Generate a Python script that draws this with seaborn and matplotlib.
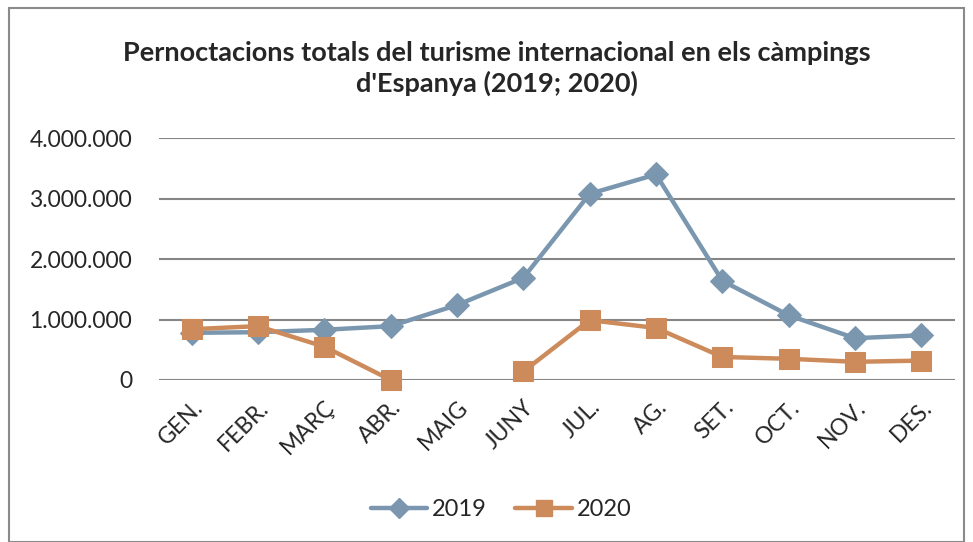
import numpy as np
import pandas as pd
import matplotlib
matplotlib.use("Agg")
import matplotlib.pyplot as plt
from matplotlib.patches import Rectangle
from matplotlib.ticker import FuncFormatter
import seaborn as sns

# Data
months = ['GEN.', 'FEBR.', 'MARÇ', 'ABR.', 'MAIG', 'JUNY',
          'JUL.', 'AG.', 'SET.', 'OCT.', 'NOV.', 'DES.']
vals_2019 = [780000, 790000, 830000, 890000, 1240000, 1690000,
             3080000, 3400000, 1640000, 1070000, 690000, 740000]
vals_2020 = [840000, 890000, 550000, 0, np.nan, 140000,
             990000, 860000, 380000, 350000, 300000, 320000]
# segments of 2020 (gap in MAIG)
seg_2020 = [0, 0, 0, 0, 0, 1, 1, 1, 1, 1, 1, 1]

c2019 = '#7B97AF'
c2020 = '#CD8B5B'

sns.set_style('white')
plt.rcParams['font.family'] = ['Lato', 'DejaVu Sans']

x = np.arange(len(months))
df19 = pd.DataFrame({'x': x, 'y': vals_2019, 'seg': 0})
df20 = pd.DataFrame({'x': x, 'y': vals_2020, 'seg': seg_2020}).dropna()

fig = plt.figure(figsize=(9.73, 5.42), dpi=100)
ax = fig.add_axes([0.163, 0.299, 0.818, 0.446])

sns.lineplot(data=df19, x='x', y='y', units='seg', estimator=None, ax=ax,
             color=c2019, lw=3.2, marker='D', markersize=12,
             markeredgecolor=c2019, zorder=3, clip_on=False)
sns.lineplot(data=df20, x='x', y='y', units='seg', estimator=None, ax=ax,
             color=c2020, lw=3.2, marker='s', markersize=14,
             markeredgecolor=c2020, zorder=4, clip_on=False)

ax.set_xlim(-0.5, len(months) - 0.5)
ax.set_ylim(0, 4000000)
ax.set_yticks([0, 1000000, 2000000, 3000000, 4000000])
ax.yaxis.set_major_formatter(FuncFormatter(lambda v, p: f'{int(v):,}'.replace(',', '.')))
ax.set_xticks(x)
ax.set_xticklabels(months, rotation=45, ha='right', rotation_mode='anchor')
ax.tick_params(axis='both', labelsize=16.5, length=0)
ax.tick_params(axis='y', pad=19)
ax.tick_params(axis='x', pad=12)
ax.set_xlabel('')
ax.set_ylabel('')
ax.grid(axis='y', color='#868686', lw=1.5)
ax.set_axisbelow(True)
for s in ax.spines.values():
    s.set_visible(False)

fig.suptitle("Pernoctacions totals del turisme internacional en els càmpings\nd'Espanya (2019; 2020)",
             x=0.511, y=0.925, fontsize=19.5, fontweight='bold', linespacing=1.3)

handles = [
    plt.Line2D([], [], color=c2019, lw=3.2, marker='D', markersize=10),
    plt.Line2D([], [], color=c2020, lw=3.2, marker='s', markersize=12),
]
fig.legend(handles, ['2019', '2020'], loc='center', bbox_to_anchor=(0.515, 0.06),
           ncol=2, frameon=False, fontsize=17, handlelength=2.4,
           columnspacing=1.2, handletextpad=0.2)

fig.patches.append(Rectangle((0.009, 0.0), 0.982, 0.985, transform=fig.transFigure,
                             fill=False, edgecolor='#8a8a8a', lw=1.5))

fig.savefig('out.png', dpi=100)
